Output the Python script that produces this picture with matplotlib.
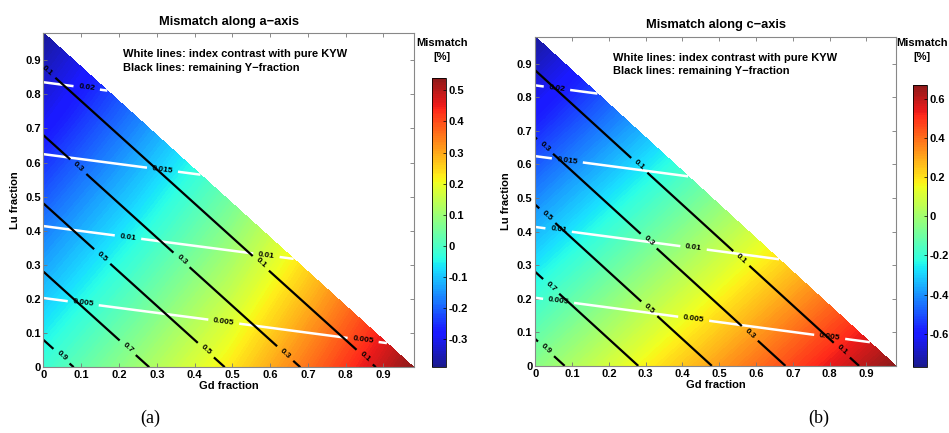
import matplotlib
matplotlib.use("Agg")
import matplotlib.pyplot as plt
import matplotlib.tri as mtri
import numpy as np
from matplotlib.colors import ListedColormap

plt.rcParams['font.family'] = ['Liberation Sans', 'DejaVu Sans']
plt.rcParams['font.weight'] = 'bold'

# grid nodes (Gd fraction, Lu fraction) inside the triangle Gd + Lu <= 0.98
gd = [0, 0.245, 0.49, 0.735, 0.98,
      0, 0.245, 0.49, 0.735,
      0, 0.245, 0.49,
      0, 0.245,
      0]
lu = [0, 0, 0, 0, 0,
      0.245, 0.245, 0.245, 0.245,
      0.49, 0.49, 0.49,
      0.735, 0.735,
      0.98]

# mismatch [%] along a-axis and c-axis, read at the nodes
mismatch_a = [-0.02, 0.10, 0.225, 0.38, 0.54,
              -0.113, 0.007, 0.135, 0.29,
              -0.206, -0.085, 0.045,
              -0.299, -0.175,
              -0.38]
mismatch_c = [-0.05, 0.13, 0.31, 0.49, 0.67,
              -0.23, -0.05, 0.13, 0.31,
              -0.41, -0.23, -0.05,
              -0.59, -0.41,
              -0.75]
# index contrast with pure KYW (white lines)
contrast = [0.0002, 0.00104, 0.00188, 0.00273, 0.00357,
            0.0060, 0.00684, 0.00768, 0.00853,
            0.01181, 0.01265, 0.01349,
            0.01762, 0.01846,
            0.02343]
# remaining Y fraction (black lines)
y_frac = [0.98, 0.735, 0.49, 0.245, 0,
          0.735, 0.49, 0.245, 0,
          0.49, 0.245, 0,
          0.245, 0,
          0]

contrast_levels = [0.005, 0.01, 0.015, 0.02]
y_levels = [0.1, 0.3, 0.5, 0.7, 0.9]

ticks = [0, 0.1, 0.2, 0.3, 0.4, 0.5, 0.6, 0.7, 0.8, 0.9]
cbar_ticks_a = [-0.3, -0.2, -0.1, 0, 0.1, 0.2, 0.3, 0.4, 0.5]
cbar_ticks_c = [-0.6, -0.4, -0.2, 0, 0.2, 0.4, 0.6]

# label spots for contour labels
ylab_a = [(0.05, 0.035), (0.224, 0.058), (0.16, 0.33), (0.43, 0.05),
          (0.094, 0.59), (0.366, 0.315), (0.64, 0.04),
          (0.01, 0.87), (0.58, 0.31), (0.855, 0.035)]
clab_a = [(0.115, 0.823), (0.316, 0.586), (0.224, 0.383), (0.59, 0.325),
          (0.105, 0.185), (0.477, 0.129), (0.846, 0.076)]
ylab_c = [(0.027, 0.048), (0.046, 0.24), (0.035, 0.45), (0.31, 0.17),
          (0.032, 0.66), (0.307, 0.37), (0.575, 0.087),
          (0.285, 0.60), (0.56, 0.32), (0.83, 0.043)]
clab_c = [(0.06, 0.835), (0.087, 0.61), (0.063, 0.40), (0.43, 0.35),
          (0.063, 0.19), (0.43, 0.135), (0.80, 0.085)]

# slightly washed-out jet, like the printed figure
jet = plt.get_cmap('jet')(np.linspace(0, 1, 256))
jet[:, :3] = jet[:, :3] * 0.9 + 0.1
soft_jet = ListedColormap(jet)

tri = mtri.Triangulation(gd, lu)

fig = plt.figure(figsize=(9.49, 4.33), dpi=100)


def panel(ax_rect, cax_rect, values, vmin, vmax, cticks, title, ylab, clab,
          caption, capx, cblab_x):
    ax = fig.add_axes(ax_rect)
    fill_levels = np.linspace(vmin, vmax, 160)
    tpc = ax.tricontourf(tri, values, levels=fill_levels, cmap=soft_jet,
                         vmin=vmin, vmax=vmax, antialiased=False)
    cs_c = ax.tricontour(tri, contrast, levels=contrast_levels, colors='white', linewidths=1.8)
    cs_y = ax.tricontour(tri, y_frac, levels=y_levels, colors='black', linewidths=1.6)
    ax.clabel(cs_y, manual=ylab, inline=True, fontsize=6, colors='k', fmt='%g')
    ax.clabel(cs_c, manual=clab, inline=True, fontsize=6, colors='k', fmt='%g')
    ax.set_xlim(0, 0.98)
    ax.set_ylim(0, 0.98)
    ax.set_xticks(ticks)
    ax.set_yticks(ticks)
    ax.set_xticklabels(['%g' % t for t in ticks])
    ax.set_yticklabels(['%g' % t for t in ticks])
    ax.tick_params(direction='in', top=True, right=True, length=3, width=0.6,
                   labelsize=8, color='#777777', pad=2)
    for s in ax.spines.values():
        s.set_color('#888888')
        s.set_linewidth(0.8)
    ax.set_title(title, fontsize=9.3, fontweight='bold', pad=6)
    ax.set_xlabel('Gd fraction', fontsize=8, fontweight='bold', labelpad=1)
    ax.set_ylabel('Lu fraction', fontsize=8, fontweight='bold', labelpad=4)
    ax.text(0.21, 0.918, 'White lines: index contrast with pure KYW', fontsize=8,
            fontweight='bold', va='center')
    ax.text(0.21, 0.877, 'Black lines: remaining Y\u2212fraction', fontsize=8,
            fontweight='bold', va='center')

    cax = fig.add_axes(cax_rect)
    cb = fig.colorbar(tpc, cax=cax, ticks=cticks)
    cb.ax.set_yticklabels(['%g' % t for t in cticks])
    cb.ax.tick_params(direction='in', length=2, width=0.5, labelsize=8, pad=2)
    cb.outline.set_linewidth(0.6)
    fig.text(cblab_x, 1 - 43 / 433, 'Mismatch', ha='center', va='center',
             fontsize=8, fontweight='bold')
    fig.text(cblab_x, 1 - 57 / 433, '[%]', ha='center', va='center',
             fontsize=8, fontweight='bold')
    fig.text(capx, 0.035, caption, fontsize=13, family='Liberation Serif',
             fontweight='normal', ha='center', va='center')


panel([0.0458, 0.152, 0.390, 0.772], [0.455, 0.152, 0.0148, 0.668],
      mismatch_a, -0.39, 0.54, cbar_ticks_a, 'Mismatch along a\u2212axis',
      ylab_a, clab_a, '(a)', 0.158, 442 / 949)
panel([0.564, 0.155, 0.380, 0.760], [0.962, 0.152, 0.0148, 0.652],
      mismatch_c, -0.77, 0.67, cbar_ticks_c, 'Mismatch along c\u2212axis',
      ylab_c, clab_c, '(b)', 0.863, 922 / 949)

fig.savefig('out.png', dpi=100)
